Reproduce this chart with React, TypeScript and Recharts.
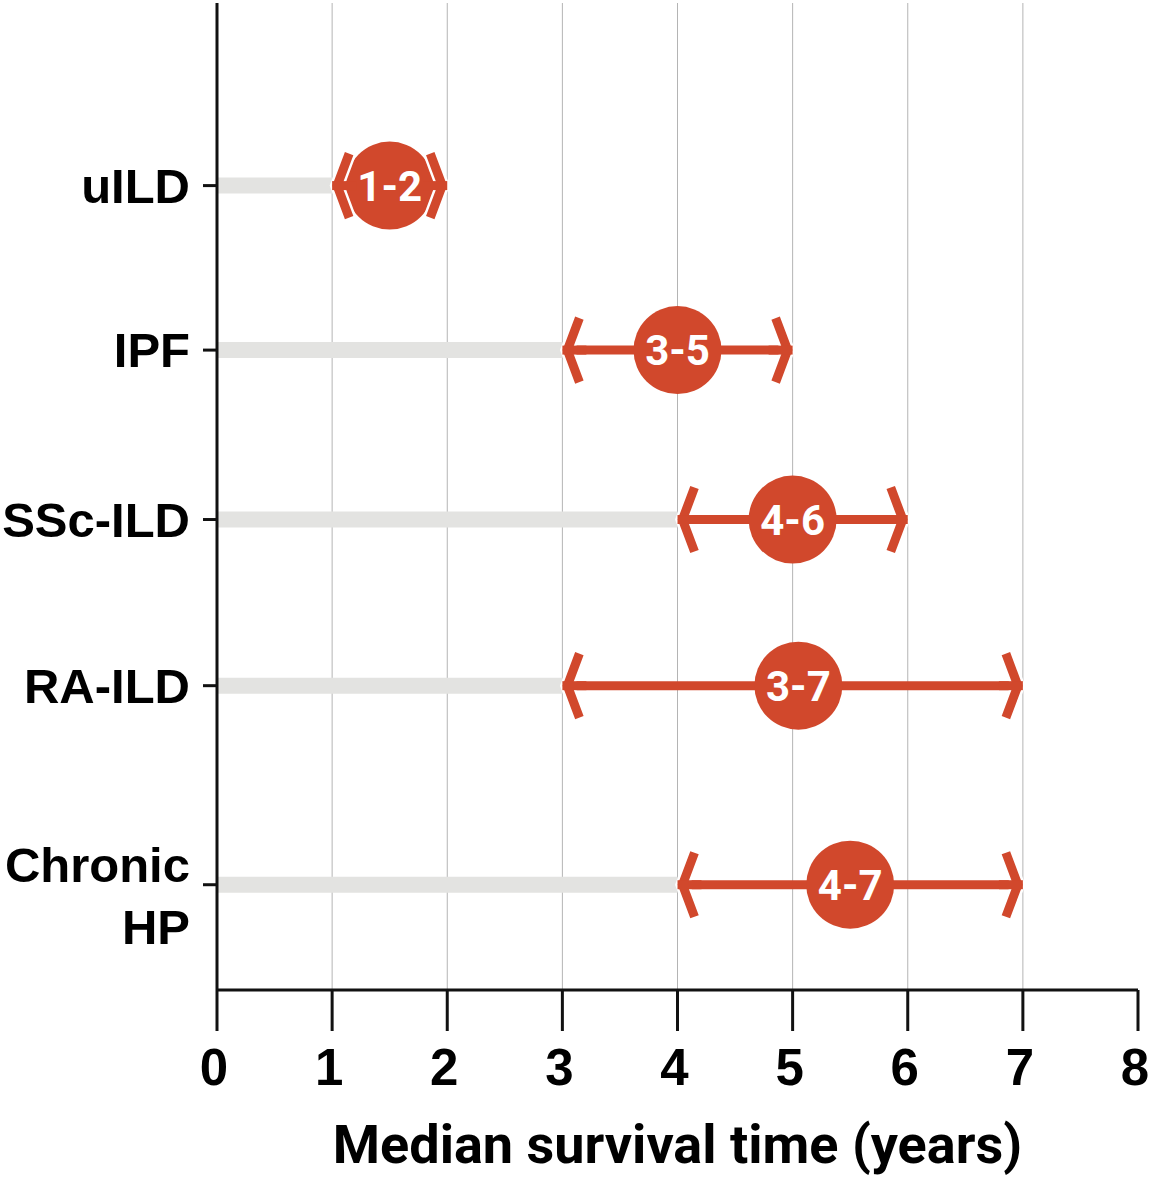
import React from "react";
import { ScatterChart, Scatter, XAxis, YAxis, ReferenceLine } from "recharts";

const diseases = ["uILD", "IPF", "SSc-ILD", "RA-ILD", "Chronic HP"];
const lowYears = [1, 3, 4, 3, 4];
const highYears = [2, 5, 6, 7, 7];
const badgeYears = [1.5, 4, 5, 5.05, 5.5];
const rangeLabels = ["1-2", "3-5", "4-6", "3-7", "4-7"];
const xTicks = [0, 1, 2, 3, 4, 5, 6, 7, 8];
const gridYears = [1, 2, 3, 4, 5, 6, 7];

// where each row sits on the hidden 0-6 vertical scale (rows are not evenly spaced)
const rowSlots = [4.89, 3.89, 2.86, 1.85, 0.64];

const RED = "#d1482c";
const GREY = "#e3e3e1";
const AXIS = "#111";

const ends = diseases.flatMap((d, i) => [
  { x: lowYears[i], y: rowSlots[i], dir: -1 },
  { x: highYears[i], y: rowSlots[i], dir: 1 },
]);

const badges = diseases.map((d, i) => ({
  x: badgeYears[i],
  y: rowSlots[i],
  label: rangeLabels[i],
}));

function Chevron(props: any) {
  const { cx, cy, payload } = props;
  const d = payload.dir;
  const tip = cx - d * 5;
  const back = tip - d * 12;
  const path = `M${back},${cy - 32} L${tip},${cy} L${back},${cy + 32}`;
  return (
    <g>
      {/* thin white halo so the arrowhead reads clearly where it meets a badge */}
      <path d={path} fill="none" stroke="#fff" strokeWidth={14} strokeLinejoin="miter" />
      <path
        d={path}
        fill="none"
        stroke={RED}
        strokeWidth={9}
        strokeLinejoin="miter"
        strokeLinecap="butt"
      />
      <line x1={cx} y1={cy} x2={cx - d * 24} y2={cy} stroke={RED} strokeWidth={9} />
    </g>
  );
}

function Badge(props: any) {
  const { cx, cy, payload } = props;
  return (
    <g>
      <circle cx={cx} cy={cy} r={44} fill={RED} />
      <text
        x={cx}
        y={cy + 15}
        textAnchor="middle"
        fill="#fff"
        fontFamily="Roboto"
        fontWeight={700}
        fontSize={42}
      >
        {payload.label}
      </text>
    </g>
  );
}

function RowTick(props: any) {
  const { x, y, payload } = props;
  const idx = rowSlots.indexOf(payload.value);
  const name = diseases[idx] ?? "";
  const style = {
    fontFamily: "Liberation Sans",
    fontWeight: 700,
    fontSize: 49,
    fill: "#000",
  };
  if (name === "Chronic HP") {
    return (
      <g>
        <text x={x - 11} y={y - 3} textAnchor="end" {...style}>
          Chronic
        </text>
        <text x={x - 11} y={y + 59} textAnchor="end" {...style}>
          HP
        </text>
      </g>
    );
  }
  return (
    <text x={x - 11} y={y + 17} textAnchor="end" {...style}>
      {name}
    </text>
  );
}

function YearTick(props: any) {
  const { x, y, payload } = props;
  return (
    <text
      x={x - 3}
      y={y + 52}
      textAnchor="middle"
      fontFamily="Liberation Sans"
      fontWeight={700}
      fontSize={51}
      fill="#000"
    >
      {payload.value}
    </text>
  );
}

export default function App() {
  return (
    <div style={{ position: "absolute", left: 0, top: 0, background: "#fff" }}>
      <ScatterChart
        width={1151}
        height={1177}
        margin={{ top: 3, right: 13, bottom: 0, left: 0 }}
      >
        <XAxis
          type="number"
          dataKey="x"
          domain={[0, 8]}
          ticks={xTicks}
          interval={0}
          height={187}
          tickSize={41}
          tick={<YearTick />}
          axisLine={{ stroke: AXIS, strokeWidth: 3 }}
          tickLine={{ stroke: AXIS, strokeWidth: 3 }}
          label={{
            value: "Median survival time (years)",
            position: "insideBottom",
            offset: 14,
            fill: "#000",
            fontSize: 54,
            fontWeight: 700,
            fontFamily: "Roboto",
          }}
        />
        <YAxis
          type="number"
          dataKey="y"
          domain={[0, 6]}
          ticks={rowSlots}
          interval={0}
          width={217}
          tickSize={14}
          tick={<RowTick />}
          axisLine={{ stroke: AXIS, strokeWidth: 3 }}
          tickLine={{ stroke: AXIS, strokeWidth: 3 }}
        />
        {gridYears.map((g) => (
          <ReferenceLine key={`g${g}`} x={g} stroke="#b4b4b4" strokeWidth={1} />
        ))}
        {diseases.map((d, i) => (
          <ReferenceLine
            key={`b${d}`}
            segment={[
              { x: 0, y: rowSlots[i] },
              { x: lowYears[i], y: rowSlots[i] },
            ]}
            stroke={GREY}
            strokeWidth={16}
          />
        ))}
        {diseases.map((d, i) => (
          <ReferenceLine
            key={`r${d}`}
            segment={[
              { x: lowYears[i], y: rowSlots[i] },
              { x: highYears[i], y: rowSlots[i] },
            ]}
            stroke={RED}
            strokeWidth={9}
          />
        ))}
        <Scatter data={badges} shape={<Badge />} isAnimationActive={false} />
        <Scatter data={ends} shape={<Chevron />} isAnimationActive={false} />
      </ScatterChart>
    </div>
  );
}
